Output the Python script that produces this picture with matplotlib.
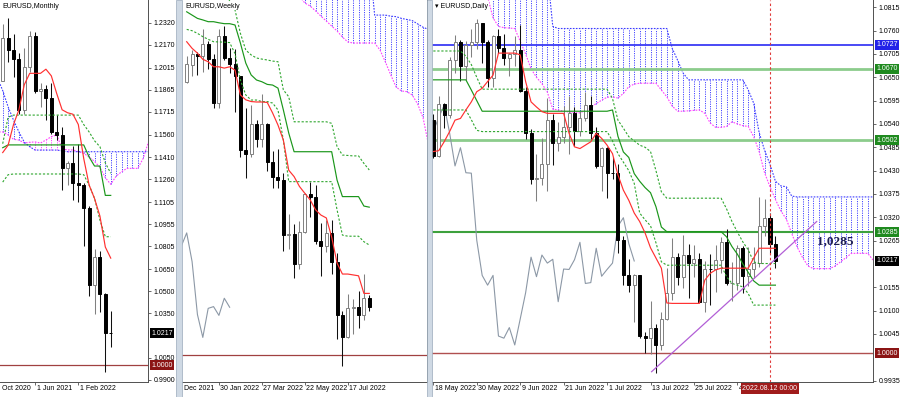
import matplotlib
matplotlib.use("Agg")
import matplotlib.pyplot as plt
import matplotlib.transforms as mtransforms
from matplotlib.patches import Rectangle
import numpy as np

plt.rcParams['font.family'] = ['Liberation Sans', 'DejaVu Sans']

# ---------------- Monthly EURUSD (Dec 2020 .. Aug 2022) ----------------
m_open  = [1.1926, 1.2216, 1.2136, 1.2075, 1.1730, 1.2020, 1.2227, 1.1858, 1.1870, 1.1807, 1.1580,
           1.1558, 1.1338, 1.1370, 1.1235, 1.1218, 1.1067, 1.0545, 1.0733, 1.0483, 1.0220]
m_high  = [1.2310, 1.2349, 1.2243, 1.2113, 1.2150, 1.2266, 1.2254, 1.1909, 1.1900, 1.1909, 1.1692,
           1.1616, 1.1386, 1.1482, 1.1495, 1.1233, 1.1076, 1.0787, 1.0774, 1.0486, 1.0368]
m_low   = [1.1922, 1.2054, 1.1952, 1.1704, 1.1704, 1.1986, 1.1847, 1.1752, 1.1664, 1.1563, 1.1524,
           1.1186, 1.1222, 1.1121, 1.1106, 1.0806, 1.0471, 1.0349, 1.0359, 0.9952, 1.0122]
m_close = [1.2216, 1.2136, 1.2075, 1.1730, 1.2020, 1.2227, 1.1858, 1.1870, 1.1807, 1.1580, 1.1558,
           1.1338, 1.1370, 1.1235, 1.1218, 1.1067, 1.0545, 1.0733, 1.0483, 1.0220, 1.0217]
m_tenkan = [1.1440, 1.1490, 1.1630, 1.1730, 1.1900, 1.1977, 1.1977, 1.1977, 1.2005, 1.1960, 1.1840,
            1.1730, 1.1710, 1.1700, 1.1630, 1.1400, 1.1220, 1.1129, 1.1010, 1.0800, 1.0725]
m_kijun = [1.1473] + [1.1492] * 15 + [1.1410, 1.1349, 1.1349, 1.1150, 1.1150]
m_dash1 = [1.1500, 1.1680] + [1.1694] * 13 + [1.1630, 1.1580, 1.1520, 1.1480, 1.1370, 1.1300]
m_dash2 = [1.1240, 1.1290] + [1.1295] * 13 + [1.1290, 1.1220, 1.1130, 1.0983, 1.0870, 1.0870]
m_cloud_x = list(range(-1, 28))
m_spanA = [1.1580, 1.1580, 1.1560, 1.1530, 1.1525, 1.1505, 1.1510, 1.1512, 1.1505, 1.1525, 1.1548,
           1.1560, 1.1465, 1.1458, 1.1458, 1.1446, 1.1435, 1.1410, 1.1380, 1.1340, 1.1270, 1.1225,
           1.1280, 1.1310, 1.1333, 1.1333, 1.1333, 1.1400, 1.1514]
m_spanB = [1.1950, 1.1860, 1.1750, 1.1660, 1.1580, 1.1510, 1.1480, 1.1457, 1.1457, 1.1457, 1.1457,
           1.1457, 1.1452] + [1.1446] * 16
m_yticks = [1.2320, 1.2170, 1.2015, 1.1865, 1.1715, 1.1560, 1.1410, 1.1260, 1.1105, 1.0955,
            1.0805, 1.0650, 1.0500, 1.0350, 1.0050, 0.9900]
m_xlabels = [(-0.5, "Oct 2020"), (6, "1 Jun 2021"), (14, "1 Feb 2022")]

# ---------------- Weekly EURUSD (week of 19 Dec 2021 .. 14 Aug 2022) ----------------
w_open  = [1.1239, 1.1320, 1.1370, 1.1360, 1.1412, 1.1344, 1.1145, 1.1450, 1.1349, 1.1322, 1.1270,
           1.0930, 1.0912, 1.1050, 1.0984, 1.1049, 1.0876, 1.0808, 1.0794, 1.0545, 1.0550, 1.0412,
           1.0560, 1.0733, 1.0719, 1.0518, 1.0495, 1.0555, 1.0425, 1.0184, 1.0080, 1.0212, 1.0220,
           1.0180, 1.0258]
w_high  = [1.1360, 1.1386, 1.1378, 1.1482, 1.1429, 1.1370, 1.1483, 1.1495, 1.1395, 1.1390, 1.1270,
           1.1121, 1.1137, 1.1070, 1.1185, 1.1054, 1.0925, 1.0936, 1.0826, 1.0642, 1.0594, 1.0607,
           1.0737, 1.0787, 1.0774, 1.0601, 1.0615, 1.0615, 1.0463, 1.0201, 1.0278, 1.0254, 1.0293,
           1.0368, 1.0275]
w_low   = [1.1235, 1.1268, 1.1272, 1.1285, 1.1300, 1.1121, 1.1121, 1.1340, 1.1280, 1.1106, 1.0900,
           1.0806, 1.0900, 1.0945, 1.0945, 1.0836, 1.0757, 1.0760, 1.0471, 1.0483, 1.0349, 1.0390,
           1.0556, 1.0627, 1.0506, 1.0359, 1.0469, 1.0366, 1.0072, 0.9952, 1.0078, 1.0097, 1.0123,
           1.0161, 1.0200]
w_close = [1.1322, 1.1370, 1.1360, 1.1412, 1.1344, 1.1145, 1.1450, 1.1349, 1.1322, 1.1270, 1.0930,
           1.0912, 1.1050, 1.0984, 1.1049, 1.0876, 1.0808, 1.0794, 1.0545, 1.0550, 1.0412, 1.0560,
           1.0733, 1.0719, 1.0518, 1.0495, 1.0555, 1.0425, 1.0184, 1.0080, 1.0212, 1.0220, 1.0180,
           1.0258, 1.0217]
w_tenkan = [1.1424, 1.1394, 1.1372, 1.1344, 1.1333, 1.1310, 1.1310, 1.1304, 1.1310, 1.1295,
            1.1182, 1.1160, 1.1152, 1.1150, 1.1150, 1.1148, 1.1100, 1.1045, 1.0977, 1.0840,
            1.0811, 1.0766, 1.0735, 1.0705, 1.0660, 1.0636, 1.0623, 1.0536, 1.0418, 1.0368,
            1.0368, 1.0364, 1.0360, 1.0280, 1.0280]
w_kijun = [1.1560, 1.1545, 1.1530, 1.1523, 1.1515, 1.1515, 1.1510, 1.1506, 1.1506, 1.1500,
           1.1418, 1.1327, 1.1273, 1.1250, 1.1242, 1.1230, 1.1227, 1.1213, 1.1114, 1.1009,
           1.0924, 1.0924, 1.0924, 1.0924, 1.0924, 1.0924, 1.0924, 1.0924, 1.0795, 1.0720,
           1.0720, 1.0720, 1.0720, 1.0677, 1.0672]
w_dash1 = [1.1700, 1.1700, 1.1700, 1.1700, 1.1700, 1.1680, 1.1660, 1.1650, 1.1610, 1.1568,
           1.1462, 1.1386, 1.1364, 1.1350, 1.1345, 1.1341, 1.1336, 1.1333, 1.1205, 1.1174,
           1.1060, 1.1060, 1.1060, 1.1060, 1.1060, 1.1060, 1.1060, 1.1053, 1.0947, 1.0909,
           1.0907, 1.0905, 1.0905, 1.0871, 1.0841]
w_dash2 = [1.1480, 1.1474, 1.1462, 1.1447, 1.1435, 1.1424, 1.1423, 1.1422, 1.1420, 1.1370,
           1.1250, 1.1182, 1.1159, 1.1159, 1.1152, 1.1152, 1.1145, 1.1114, 1.0977, 1.0788,
           1.0788, 1.0788, 1.0788, 1.0788, 1.0788, 1.0788, 1.0788, 1.0788, 1.0660, 1.0545,
           1.0540, 1.0540, 1.0540, 1.0515, 1.0500]
w_cloud_x = list(range(21, 46))
w_spanA = [1.1630, 1.1600, 1.1586, 1.1564, 1.1540, 1.1518, 1.1495, 1.1473, 1.1445, 1.1423,
           1.1418, 1.1418, 1.1418, 1.1418, 1.1418, 1.1386, 1.1332, 1.1273, 1.1218, 1.1200,
           1.1197, 1.1182, 1.1141, 1.1080, 1.0960]
w_spanB = [1.1800] * 14 + [1.1545, 1.1545, 1.1545, 1.1540, 1.1538, 1.1530, 1.1525, 1.1520,
                           1.1505, 1.1490, 1.1480]
w_xlabels = [(-0.7, "Dec 2021"), (6, "30 Jan 2022"), (14, "27 Mar 2022"), (22, "22 May 2022"),
             (30, "17 Jul 2022")]

# ---------------- Daily EURUSD (18 May 2022 .. 15 Aug 2022) ----------------
d_open  = [1.0550, 1.0464, 1.0587, 1.0562, 1.0690, 1.0733, 1.0677, 1.0725, 1.0733, 1.0779, 1.0733,
           1.0648, 1.0747, 1.0718, 1.0696, 1.0706, 1.0715, 1.0617, 1.0519, 1.0410, 1.0413, 1.0445,
           1.0549, 1.0495, 1.0510, 1.0532, 1.0567, 1.0523, 1.0555, 1.0584, 1.0519, 1.0441, 1.0484,
           1.0425, 1.0424, 1.0266, 1.0183, 1.0160, 1.0183, 1.0040, 1.0035, 1.0060, 1.0019, 1.0080,
           1.0142, 1.0226, 1.0180, 1.0231, 1.0212, 1.0221, 1.0121, 1.0198, 1.0197, 1.0220, 1.0261,
           1.0164, 1.0166, 1.0247, 1.0181, 1.0197, 1.0212, 1.0299, 1.0319, 1.0258]
d_high  = [1.0564, 1.0606, 1.0590, 1.0697, 1.0749, 1.0738, 1.0736, 1.0765, 1.0787, 1.0779, 1.0738,
           1.0750, 1.0764, 1.0752, 1.0707, 1.0748, 1.0774, 1.0627, 1.0527, 1.0470, 1.0506, 1.0601,
           1.0564, 1.0545, 1.0582, 1.0605, 1.0581, 1.0571, 1.0615, 1.0605, 1.0532, 1.0485, 1.0486,
           1.0463, 1.0445, 1.0276, 1.0221, 1.0186, 1.0185, 1.0050, 1.0122, 1.0069, 1.0097, 1.0201,
           1.0272, 1.0236, 1.0278, 1.0257, 1.0254, 1.0236, 1.0218, 1.0234, 1.0254, 1.0274, 1.0293,
           1.0215, 1.0254, 1.0252, 1.0249, 1.0249, 1.0368, 1.0364, 1.0330, 1.0275]
d_low   = [1.0459, 1.0462, 1.0531, 1.0555, 1.0660, 1.0641, 1.0643, 1.0699, 1.0717, 1.0683, 1.0627,
           1.0628, 1.0708, 1.0680, 1.0653, 1.0677, 1.0615, 1.0505, 1.0398, 1.0359, 1.0396, 1.0381,
           1.0443, 1.0477, 1.0494, 1.0469, 1.0487, 1.0511, 1.0548, 1.0505, 1.0437, 1.0382, 1.0366,
           1.0410, 1.0235, 1.0161, 1.0144, 1.0072, 1.0035, 0.9999, 0.9998, 0.9952, 1.0007, 1.0079,
           1.0125, 1.0160, 1.0153, 1.0130, 1.0180, 1.0120, 1.0097, 1.0114, 1.0144, 1.0188, 1.0160,
           1.0123, 1.0148, 1.0141, 1.0159, 1.0178, 1.0202, 1.0275, 1.0236, 1.0200]
d_close = [1.0464, 1.0587, 1.0562, 1.0690, 1.0733, 1.0677, 1.0725, 1.0733, 1.0779, 1.0733, 1.0648,
           1.0747, 1.0718, 1.0696, 1.0706, 1.0715, 1.0617, 1.0519, 1.0410, 1.0413, 1.0445, 1.0549,
           1.0495, 1.0510, 1.0532, 1.0567, 1.0523, 1.0555, 1.0584, 1.0519, 1.0441, 1.0484, 1.0425,
           1.0424, 1.0266, 1.0183, 1.0160, 1.0183, 1.0040, 1.0035, 1.0060, 1.0019, 1.0080, 1.0142,
           1.0226, 1.0180, 1.0231, 1.0212, 1.0221, 1.0121, 1.0198, 1.0197, 1.0220, 1.0261, 1.0164,
           1.0166, 1.0247, 1.0181, 1.0197, 1.0212, 1.0299, 1.0319, 1.0258, 1.0217]
d_tenkan = [1.0475, 1.0477, 1.0498, 1.0522, 1.0549, 1.0553, 1.0573, 1.0592, 1.0616, 1.0624,
            1.0640, 1.0655, 1.0707, 1.0707, 1.0707, 1.0707, 1.0703, 1.0640, 1.0592, 1.0580,
            1.0569, 1.0565, 1.0565, 1.0565, 1.0565, 1.0518, 1.0486, 1.0482, 1.0490, 1.0498,
            1.0518, 1.0506, 1.0490, 1.0470, 1.0420, 1.0384, 1.0360, 1.0330, 1.0310, 1.0283,
            1.0248, 1.0224, 1.0200, 1.0118, 1.0117, 1.0117, 1.0117, 1.0117, 1.0117, 1.0117,
            1.0172, 1.0188, 1.0196, 1.0200, 1.0200, 1.0200, 1.0200, 1.0200, 1.0200, 1.0224,
            1.0247, 1.0247, 1.0247, 1.0247]
d_kijun = [1.0644] * 7 + [1.0620, 1.0595] + [1.0570] * 24 + \
          [1.0573, 1.0511, 1.0474, 1.0461, 1.0423, 1.0405, 1.0390, 1.0378, 1.0345, 1.0297] + \
          [1.0286] * 11 + [1.0274, 1.0251, 1.0233, 1.0210, 1.0190, 1.0170] + [1.0160] * 4
d_dash1 = [1.0712] * 6 + [1.0700, 1.0680, 1.0650] + [1.0622] * 24 + \
          [1.0600, 1.0549, 1.0530, 1.0510, 1.0500, 1.0490, 1.0485, 1.0475, 1.0430, 1.0380] + \
          [1.0365] * 11 + [1.0340, 1.0310, 1.0285, 1.0262, 1.0243, 1.0215] + [1.0211] * 4
d_dash2 = [1.0573] * 7 + [1.0550, 1.0525] + [1.0522] * 24 + \
          [1.0500, 1.0470, 1.0450, 1.0430, 1.0400, 1.0330, 1.0314, 1.0300, 1.0260, 1.0215] + \
          [1.0207] * 11 + [1.0180, 1.0164, 1.0160, 1.0156, 1.0140, 1.0113] + [1.0113] * 4
d_cloud_x = list(range(10, 82))
d_spanA = [1.0840, 1.0790, 1.0770, 1.0767, 1.0766, 1.0765, 1.0735, 1.0705, 1.0670, 1.0650,
           1.0635, 1.0615, 1.0575, 1.0573, 1.0570, 1.0568, 1.0567, 1.0566, 1.0572, 1.0580,
           1.0588, 1.0596, 1.0603, 1.0604, 1.0601, 1.0612, 1.0628, 1.0634, 1.0636, 1.0636,
           1.0636, 1.0636, 1.0620, 1.0604, 1.0582, 1.0570, 1.0570, 1.0571, 1.0572, 1.0573,
           1.0565, 1.0542, 1.0532, 1.0532, 1.0534, 1.0545, 1.0540, 1.0536, 1.0534, 1.0510,
           1.0475, 1.0425, 1.0392, 1.0362, 1.0335, 1.0316, 1.0282, 1.0250, 1.0225, 1.0205,
           1.0199, 1.0199, 1.0199, 1.0199, 1.0205, 1.0215, 1.0225, 1.0235, 1.0235, 1.0235,
           1.0235, 1.0219]
d_spanB = [1.0900] * 12 + [1.0770] + [1.0765] * 21 + [1.0718, 1.0690, 1.0660] + [1.0644] * 11 + \
          [1.0620, 1.0589, 1.0520, 1.0478, 1.0445, 1.0405, 1.0394, 1.0392, 1.0370] + [1.0368] * 15
d_trend_x = [40.2, 70.6]
d_trend_y = [0.9956, 1.0310]
d_marker_x = 62
d_yticks = [1.0815, 1.0760, 1.0705, 1.0650, 1.0595, 1.0540, 1.0485, 1.0430, 1.0375, 1.0320,
            1.0265, 1.0155, 1.0100, 1.0045, 0.9935]
d_levels = [(1.0727, '#3b3bf5', 1.3, '#2323e8'), (1.0670, '#8ccc8c', 2.0, '#1f8a1f'),
            (1.0502, '#8ccc8c', 2.0, '#1f8a1f'), (1.0285, '#3da13d', 1.5, '#1f8a1f')]
d_xlabels = [(0, "18 May 2022"), (8, "30 May 2022"), (16, "9 Jun 2022"), (24, "21 Jun 2022"),
             (32, "1 Jul 2022"), (40, "13 Jul 2022"), (48, "25 Jul 2022"), (56, "4")]

# ------------------------------------------------------------------------
W, H = 900, 397
fig = plt.figure(figsize=(W / 100, H / 100), dpi=100)
fig.patch.set_facecolor('white')
FS = 5.0


def px_axes(x0, x1, y0, y1):
    return fig.add_axes([x0 / W, 1 - y1 / H, (x1 - x0) / W, (y1 - y0) / H])


def style_axes(ax):
    ax.set_facecolor('white')
    for s in ['left', 'top']:
        ax.spines[s].set_visible(False)
    for s in ['right', 'bottom']:
        ax.spines[s].set_color('#505050')
        ax.spines[s].set_linewidth(0.7)
    ax.yaxis.tick_right()
    ax.tick_params(axis='both', length=2.2, width=0.6, color='#505050', labelsize=FS, pad=1.8)
    ax.tick_params(axis='x', labelbottom=False)


def candles(ax, o, h, l, c, w=0.56):
    o, h, l, c = map(np.asarray, (o, h, l, c))
    x = np.arange(len(o))
    up = c >= o
    ax.vlines(x[up], l[up], h[up], color='#808080', lw=0.75, zorder=4)
    ax.vlines(x[~up], l[~up], h[~up], color='#101010', lw=0.75, zorder=4)
    lo = np.minimum(o, c)
    hb = np.abs(c - o)
    ax.bar(x[up], hb[up], w, lo[up], facecolor='white', edgecolor='#808080', lw=0.7, zorder=5)
    ax.bar(x[~up], hb[~up], w, lo[~up], facecolor='black', edgecolor='black', lw=0.7, zorder=5)


def cloud(ax, xs, a, b):
    xs, a, b = map(np.asarray, (xs, a, b))
    blue = b >= a
    ax.vlines(xs[blue], a[blue], b[blue], colors='#4848ff', linestyles=(0, (1.2, 1.2)), lw=0.7, zorder=1)
    ax.vlines(xs[~blue], b[~blue], a[~blue], colors='#ff48ff', linestyles=(0, (1.2, 1.2)), lw=0.7, zorder=1)
    ax.plot(xs, a, color='#ff40ff', lw=0.8, ls=(0, (1.5, 1.2)), zorder=2)
    ax.plot(xs, b, color='#3c3cff', lw=0.8, ls=(0, (1.5, 1.2)), zorder=2)


def lines(ax, tenkan, kijun, dash1, dash2):
    x = np.arange(len(tenkan))
    ax.plot(x, dash1, color='#2ea62e', lw=0.8, ls=(0, (2, 1.6)), zorder=6)
    ax.plot(x, dash2, color='#2ea62e', lw=0.8, ls=(0, (2, 1.6)), zorder=6)
    ax.plot(x, kijun, color='#1a961a', lw=0.85, zorder=6)
    ax.plot(x, tenkan, color='#ff3030', lw=0.85, zorder=6)


def date_labels(ax, items):
    tr = mtransforms.blended_transform_factory(ax.transData, ax.transAxes)
    tr = mtransforms.offset_copy(tr, fig=fig, x=1.5, y=-6.5, units='dots')
    for xv, txt in items:
        ax.text(xv, 0, txt, transform=tr, ha='left', va='center', fontsize=FS,
                color='black', clip_on=False, zorder=3)


def price_box(ax, price, txt, fc, dx=3):
    tr = mtransforms.blended_transform_factory(ax.transAxes, ax.transData)
    tr = mtransforms.offset_copy(tr, fig=fig, x=dx, y=0, units='dots')
    ax.text(1.0, price, txt, transform=tr, ha='left', va='center', fontsize=FS, color='white',
            clip_on=False, zorder=8,
            bbox=dict(boxstyle='square,pad=0.2', fc=fc, ec='none'))


def title(ax, txt, dx=2):
    tr = mtransforms.offset_copy(ax.transAxes, fig=fig, x=dx, y=-6, units='dots')
    ax.text(0, 1, txt, transform=tr, ha='left', va='center', fontsize=FS, color='black',
            zorder=9, bbox=dict(boxstyle='square,pad=0.1', fc='white', ec='none'))


# ---------------- Monthly panel ----------------
axm = px_axes(0, 148, 0, 382)
style_axes(axm)
cloud(axm, m_cloud_x, m_spanA, m_spanB)
candles(axm, m_open, m_high, m_low, m_close)
lines(axm, m_tenkan, m_kijun, m_dash1, m_dash2)
axm.axhline(1.0000, color='#a04040', lw=0.9, zorder=3)
axm.set_xlim(-0.5, 26.9)
axm.set_ylim(0.98857, 1.24738)
axm.set_yticks(m_yticks)
axm.set_yticklabels([f"{v:.4f}" for v in m_yticks])
axm.set_xticks([p for p, _ in m_xlabels if p >= 0])
date_labels(axm, m_xlabels)
price_box(axm, m_close[-1], f"{m_close[-1]:.4f}", 'black')
price_box(axm, 1.0000, "1.0000", '#8b1414')
title(axm, "EURUSD,Monthly")

# ---------------- Weekly panel ----------------
axw = px_axes(182, 427, 0, 382)
style_axes(axw)
axw.tick_params(axis='y', labelright=False, length=0)
cloud(axw, w_cloud_x, w_spanA, w_spanB)
axw.plot(np.arange(len(w_close)) - 26, w_close, color='#8c98a6', lw=0.8, zorder=3)
candles(axw, w_open, w_high, w_low, w_close)
lines(axw, w_tenkan, w_kijun, w_dash1, w_dash2)
axw.axhline(1.0000, color='#a04040', lw=0.9, zorder=3)
axw.set_xlim(-0.875, 44.75)
axw.set_ylim(0.98773, 1.16136)
axw.set_xticks([p for p, _ in w_xlabels if p >= 0])
date_labels(axw, w_xlabels)
title(axw, "EURUSD,Weekly", dx=3)

# ---------------- Daily panel ----------------
axd = px_axes(432, 873, 0, 382)
style_axes(axd)
cloud(axd, d_cloud_x, d_spanA, d_spanB)
for lvl, col, lw, boxc in d_levels:
    axd.axhline(lvl, color=col, lw=lw, zorder=2)
axd.axhline(1.0000, color='#b05050', lw=1.0, zorder=2)
axd.plot(np.arange(len(d_close)) - 26, d_close, color='#8c98a6', lw=0.8, zorder=3)
candles(axd, d_open, d_high, d_low, d_close)
lines(axd, d_tenkan, d_kijun, d_dash1, d_dash2)
axd.plot(d_trend_x, d_trend_y, color='#b25fd6', lw=0.9, zorder=7)
axd.axvline(d_marker_x, color='#e03a3a', lw=0.8, ls=(0, (2.2, 2.2)), zorder=7)
axd.text(74.0, 1.0264, "1,0285", fontsize=9.5, fontweight='bold', color='#1c1c52',
         family=['Liberation Serif', 'DejaVu Serif'], ha='center', va='center', zorder=9)
axd.set_xlim(-0.24, 80.97)
axd.set_ylim(0.99317, 1.08322)
axd.set_yticks(d_yticks)
axd.set_yticklabels([f"{v:.4f}" for v in d_yticks])
axd.set_xticks([p for p, _ in d_xlabels] + [d_marker_x])
date_labels(axd, d_xlabels)
for lvl, col, lw, boxc in d_levels:
    price_box(axd, lvl, f"{lvl:.4f}", boxc)
price_box(axd, d_close[-1], f"{d_close[-1]:.4f}", 'black')
price_box(axd, 1.0000, "1.0000", '#8b1414')
trd = mtransforms.offset_copy(mtransforms.blended_transform_factory(axd.transData, axd.transAxes),
                              fig=fig, x=0, y=-6.5, units='dots')
axd.text(d_marker_x, 0, "2022.08.12 00:00", transform=trd, ha='center', va='center',
         fontsize=FS, color='white', clip_on=False, zorder=10,
         bbox=dict(boxstyle='square,pad=0.25', fc='#a01c1c', ec='none'))
title(axd, "\u25be EURUSD,Daily", dx=3)

# ---------------- window frames ----------------
for x0, x1 in [(176, 182), (427, 432)]:
    fig.patches.append(Rectangle((x0 / W, 0), (x1 - x0) / W, 1, transform=fig.transFigure,
                                 facecolor='#cfd9e4', edgecolor='#9aaabb', lw=0.5, zorder=20))

fig.savefig("out.png", dpi=100, facecolor='white')
